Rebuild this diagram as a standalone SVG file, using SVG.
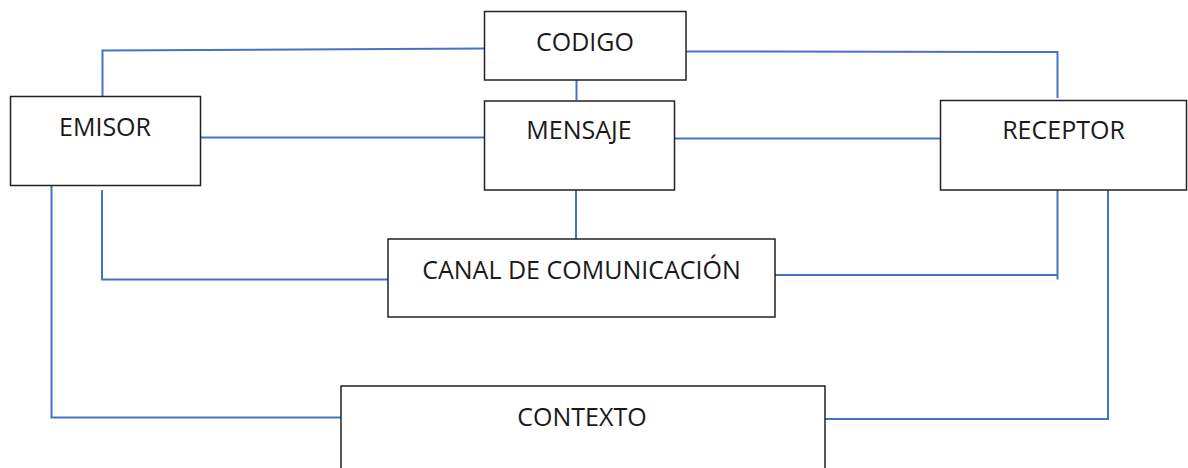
<svg xmlns="http://www.w3.org/2000/svg" width="1188" height="468" viewBox="0 0 1188 468">
<style>
.box{fill:#fff;stroke:#222;stroke-width:1.5}
.lbl{font-family:"Open Sans","Liberation Sans",sans-serif;font-size:25px;fill:#1a1a1a;text-anchor:middle}
.con{fill:none;stroke:#4472C4;stroke-width:2}
</style>
<rect width="1188" height="468" fill="#fff"/>
<g id="connectors">
<polyline class="con" points="102.5,98 102.5,50.5 484.5,48.5"/>
<polyline class="con" points="673,51.5 1057.5,52 1057.5,98"/>
<line class="con" x1="576.5" y1="80" x2="576.5" y2="100"/>
<line class="con" x1="200.5" y1="137.5" x2="484.5" y2="137.5"/>
<line class="con" x1="674.5" y1="138.5" x2="940.5" y2="138.5"/>
<line class="con" x1="576" y1="185" x2="576" y2="239"/>
<polyline class="con" points="102,190 102,279.5 388,279.5"/>
<polyline class="con" points="775,275 1057.5,275"/>
<line class="con" x1="1057.5" y1="190" x2="1057.5" y2="279.5"/>
<polyline class="con" points="51.5,186 51.5,417.5 341,417.5"/>
<polyline class="con" points="1108,190 1108,419 825,419"/>
</g>
<g id="codigo">
<rect class="box" x="484.5" y="11.5" width="201.5" height="68.5"/>
<text class="lbl" x="585" y="51">CODIGO</text>
</g>
<g id="emisor">
<rect class="box" x="10.5" y="96.5" width="190" height="89"/>
<text class="lbl" x="105" y="136">EMISOR</text>
</g>
<g id="mensaje">
<rect class="box" x="484.5" y="101" width="190" height="89"/>
<text class="lbl" x="579" y="139">MENSAJE</text>
</g>
<g id="receptor">
<rect class="box" x="940.5" y="100.5" width="246" height="89.5"/>
<text class="lbl" x="1063.5" y="139">RECEPTOR</text>
</g>
<g id="canal">
<rect class="box" x="388" y="239" width="387" height="78"/>
<text class="lbl" x="581.5" y="279">CANAL DE COMUNICACIÓN</text>
</g>
<g id="contexto">
<rect class="box" x="341" y="386" width="484" height="90"/>
<text class="lbl" x="582" y="426">CONTEXTO</text>
</g>
</svg>
